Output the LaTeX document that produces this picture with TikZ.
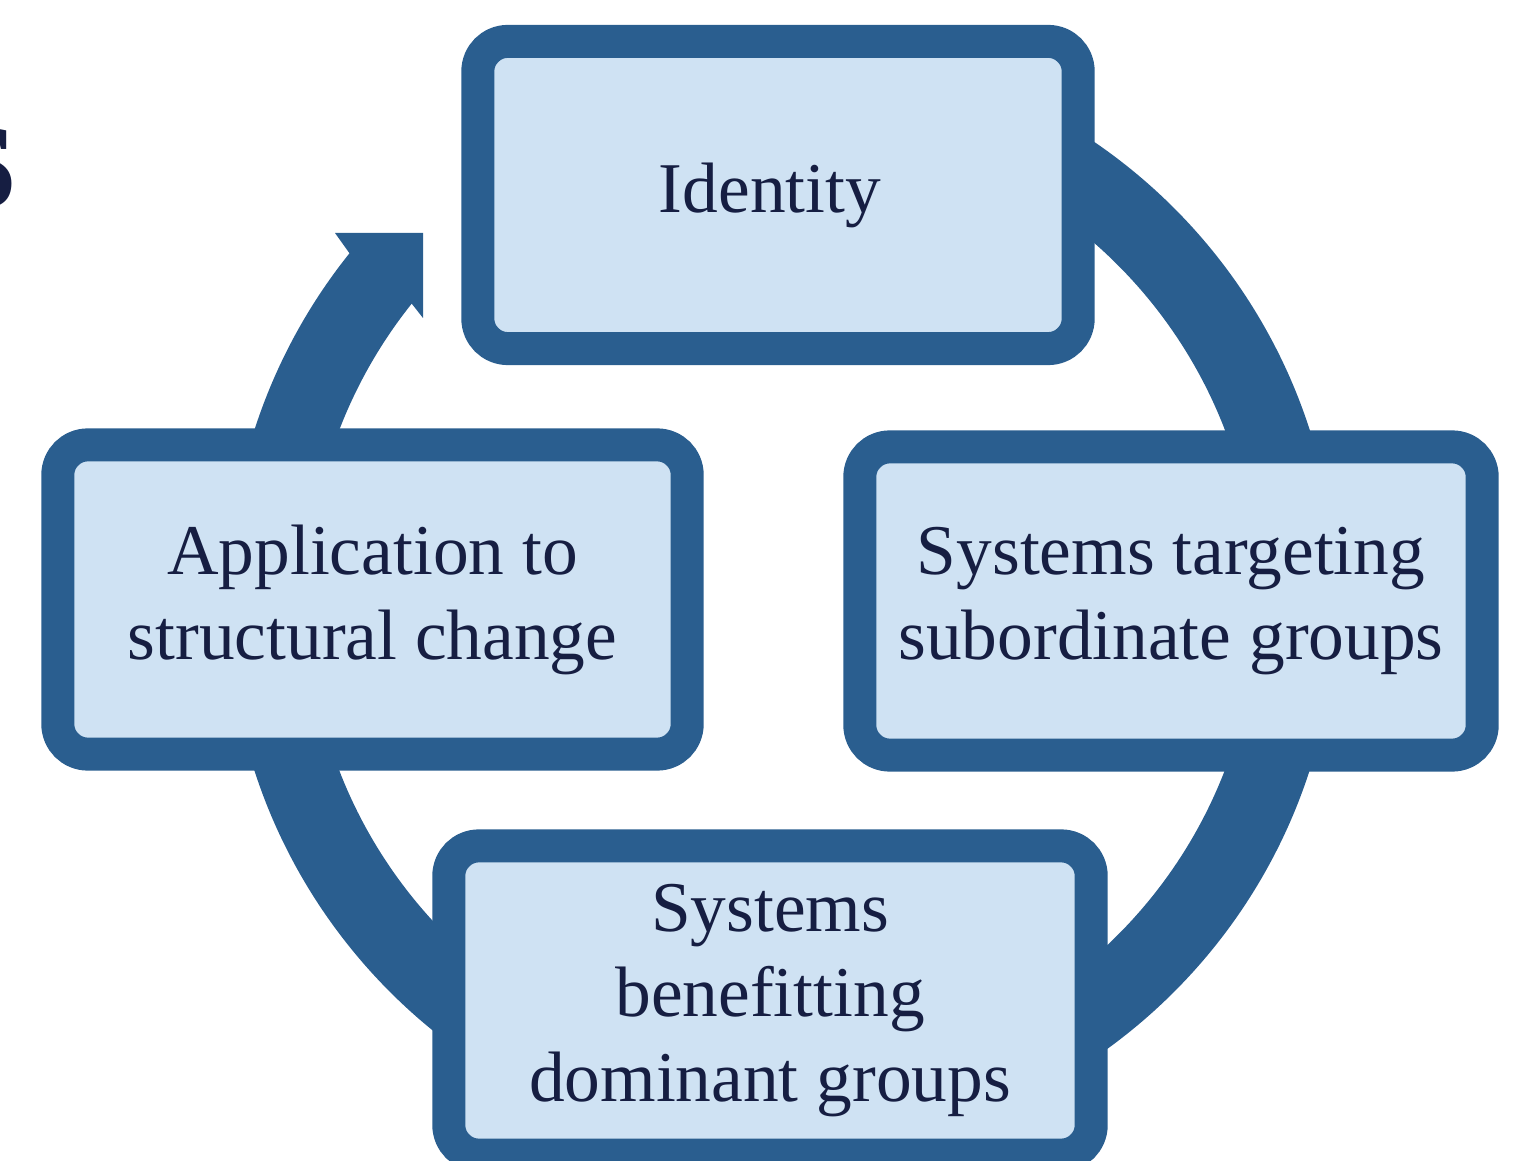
\documentclass[tikz,border=0pt]{standalone}
\usepackage{fontspec}
\setmainfont{Liberation Serif}
\usetikzlibrary{calc}
\definecolor{ringblue}{RGB}{42,94,143}
\definecolor{boxfill}{RGB}{207,226,243}
\definecolor{navy}{RGB}{22,30,66}
\tikzset{
  cyclebox/.style={draw=ringblue, fill=boxfill, line width=0.33cm, rounded corners=0.3cm,
    align=center, text=navy, inner sep=0pt,
    font=\fontsize{20.3}{24.2}\selectfont},
  ringband/.style={draw=ringblue, line width=0.8cm, line cap=butt},
}
\begin{document}
\begin{tikzpicture}[x=0.01cm, y=0.01cm]
\useasboundingbox (0,0) rectangle (1524,1160);
% cut-off title letter at the left edge
\begin{scope}
\clip (0,0) rectangle (1524,1160);
\node[anchor=base west, inner sep=0pt, text=navy, font=\fontsize{34}{34}\selectfont\bfseries] (title) at (-50,952) {S};
\end{scope}
% ring
\coordinate (c) at (782,560);
\draw[ringband] ($(c)+(90:5.14cm)$) arc[start angle=90, end angle=-219, radius=5.14cm];
% arrow head
\fill[ringblue] (350,906) -- (335,927) -- (423,927) -- (423,842) -- (412,856) -- cycle;
% boxes
\node[cyclebox, minimum width=6cm, minimum height=3.07cm] (identity) at (778,965) {Identity\hspace*{0.16cm}};
\node[cyclebox, minimum width=6.29cm, minimum height=3.09cm] (app) at (372.5,560.5) {Application to\\structural change};
\node[cyclebox, minimum width=6.22cm, minimum height=3.08cm] (target) at (1171,559) {Systems targeting\\subordinate groups};
\node[cyclebox, minimum width=6.42cm, minimum height=3.09cm] (benefit) at (770,159.5) {Systems\\benefitting\\dominant groups};
\end{tikzpicture}
\end{document}
